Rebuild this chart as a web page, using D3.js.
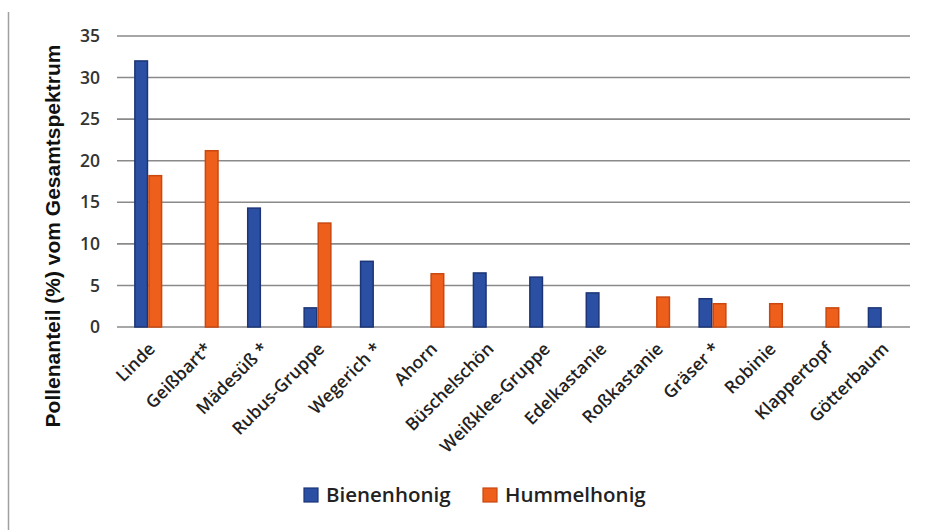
<!DOCTYPE html>
<html>
<head>
<meta charset="utf-8">
<script src="https://cdn.jsdelivr.net/npm/d3@7"></script>
<style>
  html, body { margin: 0; padding: 0; background: #fff; }
  svg { display: block; }
</style>
</head>
<body>
<svg id="chart" width="933" height="530"></svg>
<script>
// Pollen share per plant taxon in bee honey vs. bumblebee honey
const categories = ["Linde", "Geißbart*", "Mädesüß *", "Rubus-Gruppe", "Wegerich *", "Ahorn",
  "Büschelschön", "Weißklee-Gruppe", "Edelkastanie", "Roßkastanie", "Gräser *", "Robinie",
  "Klappertopf", "Götterbaum"];
const seriesNames = ["Bienenhonig", "Hummelhonig"];
const bienenhonig = [32.0, 0, 14.3, 2.3, 7.9, 0, 6.5, 6.0, 4.1, 0, 3.4, 0, 0, 2.3];
const hummelhonig = [18.2, 21.2, 0, 12.5, 0, 6.4, 0, 0, 0, 3.6, 2.8, 2.8, 2.3, 0];
const yTicks = [0, 5, 10, 15, 20, 25, 30, 35];
const yTitle = "Pollenanteil (%) vom Gesamtspektrum";

const fills = { Bienenhonig: "#2b4fa3", Hummelhonig: "#ee5f1c" };
const strokes = { Bienenhonig: "#1c3577", Hummelhonig: "#c9480f" };

const svg = d3.select("#chart");

const x0 = d3.scaleBand().domain(categories).range([120, 910]).paddingInner(0.5).paddingOuter(0.25);
const x1 = d3.scaleBand().domain(seriesNames).range([0, x0.bandwidth()]);
const y = d3.scaleLinear().domain([0, 35]).range([327, 36]);

// frame line on the left edge
svg.append("line").attr("x1", 8.5).attr("x2", 8.5).attr("y1", 12).attr("y2", 530)
  .attr("stroke", "#a0a0a0").attr("stroke-width", 1.5);

// horizontal gridlines
svg.append("g").selectAll("line").data(yTicks).join("line")
  .attr("x1", 117).attr("x2", 910)
  .attr("y1", d => y(d)).attr("y2", d => y(d))
  .attr("stroke", "#8a8a8a").attr("stroke-width", 1.6);

// y tick labels
svg.append("g").selectAll("text").data(yTicks).join("text")
  .attr("x", 100).attr("y", d => y(d)).attr("dy", "0.35em")
  .attr("text-anchor", "end")
  .attr("font-family", "Open Sans, sans-serif").attr("font-size", 17.5).attr("font-weight", 600)
  .attr("fill", "#333").text(d => d);

// y axis title
svg.append("text")
  .attr("transform", "translate(60,236) rotate(-90)")
  .attr("text-anchor", "middle")
  .attr("font-family", "Liberation Sans, Arial, sans-serif").attr("font-size", 21).attr("font-weight", 700)
  .attr("fill", "#111").text(yTitle);

// bars
const rows = categories.map((c, i) => ({ c, vals: [
  { s: "Bienenhonig", v: bienenhonig[i] },
  { s: "Hummelhonig", v: hummelhonig[i] }
] }));

svg.append("g").selectAll("g").data(rows).join("g")
  .attr("transform", d => `translate(${x0(d.c)},0)`)
  .selectAll("rect").data(d => d.vals.filter(e => e.v > 0)).join("rect")
  .attr("x", d => x1(d.s) + 0.75).attr("width", x1.bandwidth() - 1.5)
  .attr("y", d => y(d.v)).attr("height", d => y(0) - y(d.v))
  .attr("fill", d => fills[d.s]).attr("stroke", d => strokes[d.s]).attr("stroke-width", 1.5);

// category labels, rotated
svg.append("g").selectAll("text").data(categories).join("text")
  .attr("transform", d => `translate(${x0(d) + x0.bandwidth() / 2 + 8},350) rotate(-45)`)
  .attr("text-anchor", "end")
  .attr("font-family", "Open Sans, sans-serif").attr("font-size", 17.5).attr("font-weight", 600)
  .attr("fill", "#222").text(d => d);

// legend
const legend = svg.append("g");
const legendX = [304, 483];
seriesNames.forEach((s, i) => {
  legend.append("rect").attr("x", legendX[i]).attr("y", 488).attr("width", 14).attr("height", 14)
    .attr("fill", fills[s]).attr("stroke", strokes[s]).attr("stroke-width", 1.2);
  legend.append("text").attr("x", legendX[i] + 22).attr("y", 502)
    .attr("font-family", "Open Sans, sans-serif").attr("font-size", 20.5).attr("font-weight", 600)
    .attr("fill", "#222").text(s);
});
</script>
</body>
</html>
